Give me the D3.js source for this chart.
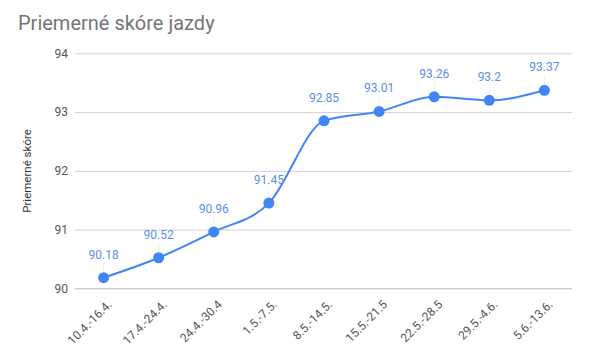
<!DOCTYPE html>
<html>
<head>
<meta charset="utf-8">
<script src="https://cdn.jsdelivr.net/npm/d3@7/dist/d3.min.js"></script>
<style>
  html, body { margin: 0; padding: 0; background: #fff; }
  svg { display: block; font-family: Roboto, "Noto Sans", sans-serif; }
</style>
</head>
<body>
<svg id="chart" width="593" height="355"></svg>
<script>
const title = "Priemerné skóre jazdy";
const yTitle = "Priemerné skóre";
const categories = ["10.4.-16.4.", "17.4.-24.4.", "24.4.-30.4", "1.5.-7.5.", "8.5.-14.5.", "15.5.-21.5", "22.5.-28.5", "29.5.-4.6.", "5.6.-13.6."];
const values = [90.18, 90.52, 90.96, 91.45, 92.85, 93.01, 93.26, 93.2, 93.37];
const valueLabels = ["90.18", "90.52", "90.96", "91.45", "92.85", "93.01", "93.26", "93.2", "93.37"];
const yTicks = [90, 91, 92, 93, 94];

(function () {
const svg = d3.select("#chart");
const pLeft = 76, pRight = 572, pTop = 53.3, pBottom = 288.3;

const x = d3.scaleBand().domain(categories).range([pLeft, pRight]).padding(0);
const y = d3.scaleLinear().domain([90, 94]).range([pBottom, pTop]);
const cx = d => x(d) + x.bandwidth() / 2;

// title
svg.append("text")
  .attr("x", 18).attr("y", 30)
  .attr("font-size", 20)
  .attr("fill", "#757575")
  .text(title);

// gridlines
const yAxis = d3.axisLeft(y).tickValues(yTicks).tickFormat(d3.format("d"))
  .tickSize(-(pRight - pLeft + 1)).tickPadding(7);
const gy = svg.append("g").attr("transform", `translate(${pLeft - 1},0)`).call(yAxis);
gy.select(".domain").remove();
gy.selectAll(".tick line").attr("stroke", d => d === 90 ? "#b8b8b8" : "#d0d0d0").attr("stroke-width", 1);
gy.selectAll(".tick text").attr("fill", "#555").attr("font-size", 12)
  .attr("font-family", "Roboto, sans-serif");

// y title
svg.append("text")
  .attr("transform", `translate(31,171) rotate(-90)`)
  .attr("text-anchor", "middle")
  .attr("font-size", 11.5)
  .attr("fill", "#333")
  .text(yTitle);

// x axis labels
const xAxis = d3.axisBottom(x).tickSize(0).tickPadding(0);
const gx = svg.append("g").attr("transform", `translate(0,${pBottom})`).call(xAxis);
gx.select(".domain").remove();
gx.selectAll(".tick text")
  .attr("font-size", 12)
  .attr("fill", "#555")
  .attr("font-family", "Roboto, sans-serif")
  .attr("text-anchor", "end")
  .attr("dy", "0.35em")
  .attr("transform", "translate(6,14) rotate(-45)");

// line
const line = d3.line()
  .x((d, i) => cx(categories[i]))
  .y(d => y(d))
  .curve(d3.curveMonotoneX);

svg.append("path")
  .datum(values)
  .attr("d", line)
  .attr("fill", "none")
  .attr("stroke", "#4285f4")
  .attr("stroke-width", 2);

// leader lines
svg.append("g").selectAll("line").data(values).join("line")
  .attr("x1", (d, i) => cx(categories[i]))
  .attr("x2", (d, i) => cx(categories[i]))
  .attr("y1", d => y(d) - 15)
  .attr("y2", d => y(d) - 5)
  .attr("stroke", "#cfcfcf")
  .attr("stroke-width", 0.6)
  .attr("stroke-dasharray", "1,1");

// points
svg.append("g").selectAll("circle").data(values).join("circle")
  .attr("cx", (d, i) => cx(categories[i]))
  .attr("cy", d => y(d))
  .attr("r", 5.5)
  .attr("fill", "#4285f4");

// value labels
svg.append("g").selectAll("text").data(values).join("text")
  .attr("x", (d, i) => cx(categories[i]))
  .attr("y", d => y(d) - 19)
  .attr("text-anchor", "middle")
  .attr("font-size", 12)
  .attr("fill", "#5b8fe9")
  .text((d, i) => valueLabels[i]);
})();
</script>
</body>
</html>
